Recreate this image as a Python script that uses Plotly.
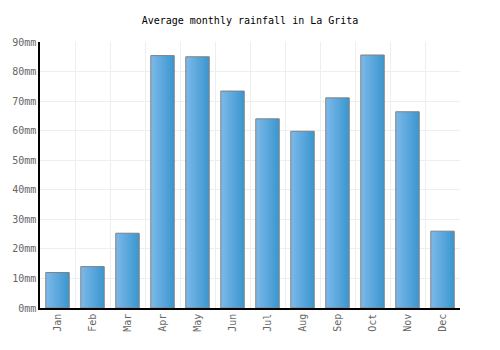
import plotly.graph_objects as go

months = ["Jan", "Feb", "Mar", "Apr", "May", "Jun", "Jul", "Aug", "Sep", "Oct", "Nov", "Dec"]
rainfall = [12.0, 14.0, 25.3, 85.4, 85.0, 73.4, 64.0, 59.8, 71.1, 85.6, 66.4, 26.0]
y_ticks = [0, 10, 20, 30, 40, 50, 60, 70, 80, 90]
y_labels = [f"{v}mm" for v in y_ticks]

half = 0.335
fig = go.Figure()
for i, (m, v) in enumerate(zip(months, rainfall)):
    fig.add_trace(go.Scatter(
        x=[i - half, i - half, i + half, i + half, i - half],
        y=[0, v, v, 0, 0],
        mode="lines",
        fill="toself",
        fillgradient=dict(type="horizontal",
                          colorscale=[[0, "#7db9ea"], [1, "#3996cf"]]),
        line=dict(color="#808080", width=1),
        name=m,
        hoverinfo="text",
        text=f"{m}: {v}mm",
        showlegend=False,
    ))

font = "DejaVu Sans Mono, monospace"
fig.update_layout(
    width=500, height=350,
    margin=dict(l=40, r=40, t=42, b=42),
    paper_bgcolor="white", plot_bgcolor="white",
    title=dict(text="Average monthly rainfall in La Grita", x=0.5, xanchor="center",
               y=1 - 20 / 350, yanchor="middle",
               font=dict(family=font, size=10, color="#000000")),
    font=dict(family=font, size=10, color="#666666"),
    xaxis=dict(
        range=[-0.5, 11.5],
        tickvals=list(range(12)), ticktext=months,
        tickangle=-90,
        showgrid=False,
        minor=dict(tickvals=[i - 0.5 for i in range(13)], showgrid=True,
                   gridcolor="#eeeeee", gridwidth=1, ticks=""),
        showline=True, linecolor="#000000", linewidth=1.5,
        ticks="", zeroline=False,
        tickfont=dict(family=font, size=10, color="#666666"),
        fixedrange=True,
    ),
    yaxis=dict(
        range=[0, 90],
        tickvals=y_ticks, ticktext=y_labels,
        showgrid=True, gridcolor="#eeeeee", gridwidth=1,
        showline=True, linecolor="#000000", linewidth=1.5,
        ticks="", zeroline=False,
        tickfont=dict(family=font, size=10, color="#666666"),
        fixedrange=True,
    ),
)

fig.write_html("out.html")
